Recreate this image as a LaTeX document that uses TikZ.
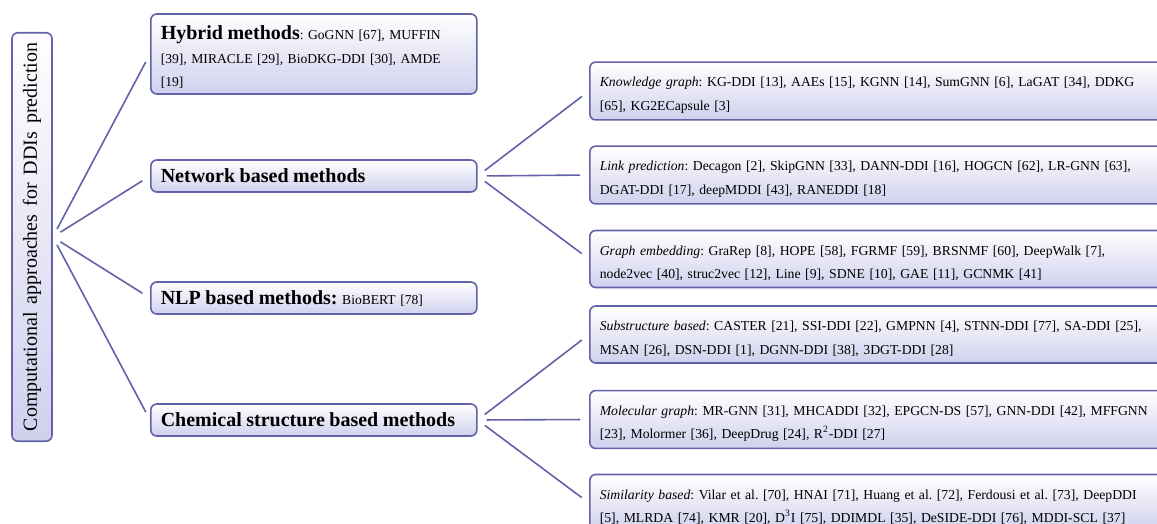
\documentclass[tikz,border=0pt]{standalone}
\usepackage{fontspec}
\setmainfont{Liberation Serif}[WordSpace=1.6]
\usepackage{xcolor}

\definecolor{lineblue}{RGB}{98,98,168}
\definecolor{boxlav}{RGB}{208,208,238}

\newcommand{\methodhead}[1]{{\fontsize{10}{12}\selectfont\bfseries #1}}

\begin{document}
\frenchspacing
\begin{tikzpicture}[x=0.5pt, y=-0.5pt,
    conn/.style={draw=lineblue, line width=0.8pt, shorten <=4.5pt, shorten >=4.5pt},
    box/.style={draw=lineblue, line width=0.8pt, rounded corners=3pt,
        top color=white, bottom color=boxlav, anchor=west, inner xsep=5pt, align=left},
    topbox/.style={box, text width=153pt, minimum height=16pt,
        font=\fontsize{6.8}{11.8}\selectfont},
    subbox/.style={box, text width=300pt, minimum height=27pt,
        font=\fontsize{6.85}{11.8}\selectfont,
        execute at begin node={\rule{0pt}{9pt}}}]

    % Frame
    \useasboundingbox (0,0) rectangle (1157,524);
    \clip (0,0) rectangle (1157,524);

    % Root
    \node[box, anchor=center, rotate=90, minimum width=199pt, minimum height=20pt,
        font=\fontsize{10}{12}\selectfont] (root) at (32,237)
        {Computational approaches for DDIs prediction};

    % Method families
    \node[topbox, minimum height=40pt, inner ysep=0.4pt,
        execute at begin node={\rule{0pt}{10pt}}] (hybrid) at (150,54)
        {\methodhead{Hybrid methods}: GoGNN [67], MUFFIN\\{}[39], MIRACLE [29], BioDKG-DDI [30], AMDE\\{}[19]};
    \node[topbox] (network) at (150,176) {\methodhead{Network based methods}};
    \node[topbox] (nlp) at (150,298) {\methodhead{NLP based methods:} BioBERT [78]};
    \node[topbox] (chem) at (150,420) {\methodhead{Chemical structure based methods}};

    % Network based
    \node[subbox] (kg) at (589,91)
        {\textit{Knowledge graph}: KG-DDI [13], AAEs [15], KGNN [14], SumGNN [6], LaGAT [34], DDKG\\{}[65], KG2ECapsule [3]};
    \node[subbox] (link) at (589,175)
        {\textit{Link prediction}: Decagon [2], SkipGNN [33], DANN-DDI [16], HOGCN [62], LR-GNN [63],\\DGAT-DDI [17], deepMDDI [43], RANEDDI [18]};
    \node[subbox] (embed) at (589,259)
        {\textit{Graph embedding}: GraRep [8], HOPE [58], FGRMF [59], BRSNMF [60], DeepWalk [7],\\node2vec [40], struc2vec [12], Line [9], SDNE [10], GAE [11], GCNMK [41]};

    % Chemical structure based
    \node[subbox] (sub) at (589,334.5)
        {\textit{Substructure based}: CASTER [21], SSI-DDI [22], GMPNN [4], STNN-DDI [77], SA-DDI [25],\\MSAN [26], DSN-DDI [1], DGNN-DDI [38], 3DGT-DDI [28]};
    \node[subbox] (mol) at (589,419.5)
        {\textit{Molecular graph}: MR-GNN [31], MHCADDI [32], EPGCN-DS [57], GNN-DDI [42], MFFGNN\\{}[23], Molormer [36], DeepDrug [24], R\textsuperscript{2}-DDI [27]};
    \node[subbox] (sim) at (589,503)
        {\textit{Similarity based}: Vilar et al. [70], HNAI [71], Huang et al. [72], Ferdousi et al. [73], DeepDDI\\{}[5], MLRDA [74], KMR [20], D\textsuperscript{3}I [75], DDIMDL [35], DeSIDE-DDI [76], MDDI-SCL [37]};

    % Connectors
    \draw[conn] (root.south) -- (hybrid.west);
    \draw[conn] (root.south) -- (network.west);
    \draw[conn] (root.south) -- (nlp.west);
    \draw[conn] (root.south) -- (chem.west);

    \draw[conn] (network.east) -- (kg.west);
    \draw[conn] (network.east) -- (link.west);
    \draw[conn] (network.east) -- (embed.west);

    \draw[conn] (chem.east) -- (sub.west);
    \draw[conn] (chem.east) -- (mol.west);
    \draw[conn] (chem.east) -- (sim.west);

\end{tikzpicture}
\end{document}
